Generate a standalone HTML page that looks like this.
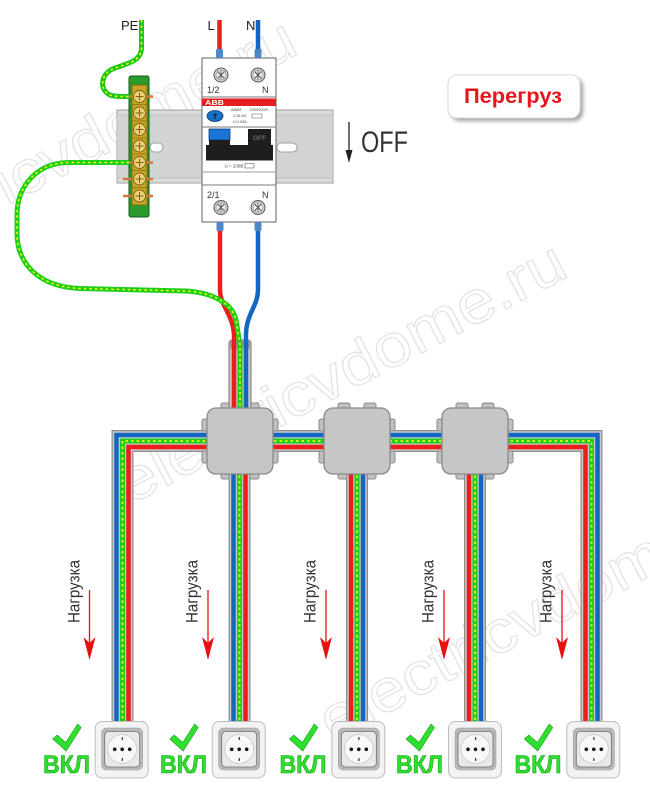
<!DOCTYPE html>
<html><head><meta charset="utf-8">
<style>
html,body{margin:0;padding:0;background:#fff;}
svg{display:block;}
text{font-family:"Liberation Sans","DejaVu Sans",sans-serif;}
</style></head><body>
<svg width="650" height="797" viewBox="0 0 650 797" xmlns="http://www.w3.org/2000/svg">
<defs>
<filter id="blur" x="-20%" y="-30%" width="140%" height="160%"><feGaussianBlur stdDeviation="2"/></filter>
<g id="sk">
<rect x="-26.5" y="721.5" width="53" height="56.5" rx="7" fill="#f3f3f3" stroke="#bdbdbd"/>
<rect x="-20" y="728" width="41" height="42" rx="5" fill="#b9b9b9" stroke="#a0a0a0" stroke-width="0.6"/>
<rect x="-17" y="731.5" width="35" height="35.5" rx="4" fill="#e9e9e9" stroke="#6e6e6e" stroke-width="0.8"/>
<circle cx="0.5" cy="749" r="14.5" fill="#f8f8f8" stroke="#cfcfcf"/>
<circle cx="-7" cy="749.3" r="1.8" fill="#111"/>
<circle cx="0.5" cy="749.3" r="1.8" fill="#111"/>
<circle cx="8" cy="749.3" r="1.8" fill="#111"/>
<rect x="0" y="737" width="1.2" height="3" fill="#333"/>
<rect x="0" y="758" width="1.2" height="3" fill="#333"/>
</g>
<polygon id="ck" points="-69,739 -64.5,735 -56,742.5 -44,724 -40.5,727.5 -55.5,751" fill="#2ee02e" stroke="#18a018" stroke-width="0.6"/>
<g id="scr">
<circle r="7" fill="#d6d6d6" stroke="#555" stroke-width="1"/>
<circle r="5" fill="#ededed" stroke="#8a8a8a" stroke-width="0.6"/>
<path d="M-3.5,-3.5 L3.5,3.5 M-3.5,3.5 L3.5,-3.5 M0,-4.5 V4.5" stroke="#555" stroke-width="0.9"/>
</g>
<g id="bs">
<circle r="6" fill="#ecd178" stroke="#7d6212" stroke-width="0.9"/>
<path d="M-4,0 H4 M0,-4 V4" stroke="#7d6212" stroke-width="1"/>
</g>
</defs>

<!-- watermarks -->
<g fill="none" stroke="#e3e3e3" stroke-width="1.2" font-size="60">
<text transform="translate(130,505) rotate(-27.5)" textLength="497" lengthAdjust="spacingAndGlyphs">electricvdome.ru</text>
<text transform="translate(-140,282) rotate(-27.5)" textLength="497" lengthAdjust="spacingAndGlyphs">electricvdome.ru</text>
<text transform="translate(332,742) rotate(-27.5)" textLength="497" lengthAdjust="spacingAndGlyphs">electricvdome.ru</text>
</g>

<!-- DIN rail -->
<rect x="117" y="110" width="216" height="73" fill="#dadada" stroke="#a0a0a0"/>
<rect x="117" y="115" width="216" height="63" fill="#d3d3d3" stroke="#b3b3b3" stroke-width="0.6"/>
<rect x="150" y="143" width="13" height="9" rx="4.5" fill="#fff" stroke="#a0a0a0"/>
<rect x="277" y="143" width="20" height="9" rx="4.5" fill="#fff" stroke="#a0a0a0"/>

<!-- bus bar -->
<rect x="129" y="76" width="20" height="141" rx="2" fill="#2a9a2a" stroke="#1b5e1b"/>
<rect x="132" y="85" width="15" height="120" fill="#c9a227" stroke="#7d6212" stroke-width="0.8"/>
<g stroke="#d2783c" stroke-width="2.5">
<line x1="140" y1="96.5" x2="153" y2="96.5"/>
<line x1="140" y1="162.5" x2="153" y2="162.5"/>
<line x1="123" y1="179" x2="153" y2="179"/>
<line x1="123" y1="196" x2="153" y2="196"/>
<line x1="125" y1="162.5" x2="132" y2="162.5"/>
<line x1="125" y1="96.5" x2="132" y2="96.5"/>
</g>
<g stroke="#7d6212" stroke-width="0.6">
<line x1="132" y1="104.5" x2="147" y2="104.5"/><line x1="132" y1="121" x2="147" y2="121"/>
<line x1="132" y1="138" x2="147" y2="138"/><line x1="132" y1="154" x2="147" y2="154"/>
<line x1="132" y1="170.5" x2="147" y2="170.5"/><line x1="132" y1="187.5" x2="147" y2="187.5"/>
</g>
<use href="#bs" x="139.5" y="96.5"/>
<use href="#bs" x="139.5" y="113"/>
<use href="#bs" x="139.5" y="129.5"/>
<use href="#bs" x="139.5" y="146"/>
<use href="#bs" x="139.5" y="162.5"/>
<use href="#bs" x="139.5" y="179"/>
<use href="#bs" x="139.5" y="196"/>

<!-- breaker -->
<rect x="202" y="58" width="74" height="164" fill="#fff" stroke="#7a7a7a" stroke-width="1.2"/>
<line x1="202" y1="97" x2="276" y2="97" stroke="#7a7a7a"/>
<rect x="202" y="98.5" width="74" height="7.5" fill="#e41e1e"/>
<text x="205" y="105" font-size="7.5" font-weight="bold" fill="#fff" textLength="19" lengthAdjust="spacingAndGlyphs">ABB</text>
<ellipse cx="215" cy="116" rx="8" ry="5.5" fill="#1b6fc4" stroke="#0d3c73" stroke-width="0.8"/>
<text x="215" y="119" font-size="7" font-weight="bold" fill="#111" text-anchor="middle">T</text>
<g font-size="4" fill="#444">
<text x="231" y="111">AWAT</text><text x="250" y="111">DSH201R</text>
<text x="233" y="117">C16  AC</text><text x="233" y="123">I=0.03A</text>
</g>
<rect x="252" y="114" width="10" height="4" fill="none" stroke="#555" stroke-width="0.5"/>
<line x1="202" y1="127" x2="276" y2="127" stroke="#7a7a7a"/>
<rect x="209" y="129" width="21" height="11" fill="#1b74d8" stroke="#0b3f80" stroke-width="0.8"/>
<rect x="209" y="140" width="21" height="5" fill="#1e1e1e"/>
<rect x="248" y="129" width="23" height="16" fill="#1e1e1e"/>
<text x="259.5" y="140" font-size="6.5" font-weight="bold" fill="#6a6a6a" text-anchor="middle">OFF</text>
<rect x="206" y="145" width="67" height="15.5" fill="#1e1e1e"/>
<text x="234" y="167.5" font-size="4.5" fill="#444" text-anchor="middle">U = 230В</text>
<rect x="245" y="163.5" width="9" height="4.5" fill="none" stroke="#444" stroke-width="0.5"/>
<line x1="202" y1="172" x2="276" y2="172" stroke="#9a9a9a"/>
<line x1="202" y1="185" x2="276" y2="185" stroke="#7a7a7a"/>
<use href="#scr" x="221" y="75"/>
<use href="#scr" x="258" y="75"/>
<use href="#scr" x="221" y="207.5"/>
<use href="#scr" x="258" y="207.5"/>
<g font-size="9" fill="#333">
<text x="207" y="93">1/2</text><text x="262" y="93">N</text>
<text x="207" y="198">2/1</text><text x="262" y="198">N</text>
</g>

<!-- top labels and wires -->
<g font-size="13" fill="#222">
<text x="121" y="30">PE</text>
<text x="207.5" y="30">L</text>
<text x="246" y="30">N</text>
</g>
<line x1="219.5" y1="20" x2="219.5" y2="52" stroke="#e82020" stroke-width="4.5"/>
<line x1="258" y1="20" x2="258" y2="52" stroke="#1565c0" stroke-width="4.5"/>
<rect x="216" y="49" width="7" height="9" rx="1.5" fill="#4f86c6"/>
<rect x="254.5" y="49" width="7" height="9" rx="1.5" fill="#4f86c6"/>

<!-- PE wire to bus -->
<path d="M141.5,20 L141.5,48 C141.5,60 130,63 115,68 C100,73 99,90 110,95 C115,97 122,96.5 129,96.5" fill="none" stroke="#1cc81c" stroke-width="5"/>
<path d="M141.5,20 L141.5,48 C141.5,60 130,63 115,68 C100,73 99,90 110,95 C115,97 122,96.5 129,96.5" fill="none" stroke="#f4f410" stroke-width="1.6" stroke-dasharray="2.5 3"/>

<!-- main horizontal bundle -->
<path d="M122.5,724 V441 H591.5 V724" fill="none" stroke="#8f8f8f" stroke-width="22"/>
<path d="M122.5,724 V441 H591.5 V724" fill="none" stroke="#c9c9c9" stroke-width="19.5"/>
<path d="M116.5,724 V435 H597.5 V724" fill="none" stroke="#1466c4" stroke-width="4.5"/>
<path d="M128.5,724 V447 H585.5 V724" fill="none" stroke="#ee1c1c" stroke-width="4.5"/>
<path d="M122.5,724 V441 H591.5 V724" fill="none" stroke="#1ccf1c" stroke-width="5"/>
<path d="M122.5,724 V441 H591.5 V724" fill="none" stroke="#f4f410" stroke-width="1.7" stroke-dasharray="2.5 3"/>

<!-- box tabs -->
<g fill="#c0c0c0" stroke="#8a8a8a" stroke-width="1">
<rect x="221" y="403" width="12" height="8" rx="2"/><rect x="247" y="403" width="12" height="8" rx="2"/>
<rect x="221" y="471" width="12" height="8" rx="2"/><rect x="247" y="471" width="12" height="8" rx="2"/>
<rect x="202" y="419" width="8" height="12" rx="2"/><rect x="202" y="451" width="8" height="12" rx="2"/>
<rect x="270" y="419" width="8" height="12" rx="2"/><rect x="270" y="451" width="8" height="12" rx="2"/>
<rect x="338" y="403" width="12" height="8" rx="2"/><rect x="364" y="403" width="12" height="8" rx="2"/>
<rect x="338" y="471" width="12" height="8" rx="2"/><rect x="364" y="471" width="12" height="8" rx="2"/>
<rect x="319" y="419" width="8" height="12" rx="2"/><rect x="319" y="451" width="8" height="12" rx="2"/>
<rect x="387" y="419" width="8" height="12" rx="2"/><rect x="387" y="451" width="8" height="12" rx="2"/>
<rect x="456" y="403" width="12" height="8" rx="2"/><rect x="482" y="403" width="12" height="8" rx="2"/>
<rect x="456" y="471" width="12" height="8" rx="2"/><rect x="482" y="471" width="12" height="8" rx="2"/>
<rect x="437" y="419" width="8" height="12" rx="2"/><rect x="437" y="451" width="8" height="12" rx="2"/>
<rect x="505" y="419" width="8" height="12" rx="2"/><rect x="505" y="451" width="8" height="12" rx="2"/>
</g>

<!-- drops -->
<g fill="none">
<path d="M239.5,470 V724" stroke="#8f8f8f" stroke-width="22"/>
<path d="M239.5,470 V724" stroke="#c9c9c9" stroke-width="19.5"/>
<path d="M233.5,470 V724" stroke="#1466c4" stroke-width="4.5"/>
<path d="M245.5,470 V724" stroke="#ee1c1c" stroke-width="4.5"/>
<path d="M239.5,470 V724" stroke="#1ccf1c" stroke-width="5"/>
<path d="M239.5,470 V724" stroke="#f4f410" stroke-width="1.7" stroke-dasharray="2.5 3"/>

<path d="M357,470 V724" stroke="#8f8f8f" stroke-width="22"/>
<path d="M357,470 V724" stroke="#c9c9c9" stroke-width="19.5"/>
<path d="M351,470 V724" stroke="#ee1c1c" stroke-width="4.5"/>
<path d="M363,470 V724" stroke="#1466c4" stroke-width="4.5"/>
<path d="M357,470 V724" stroke="#1ccf1c" stroke-width="5"/>
<path d="M357,470 V724" stroke="#f4f410" stroke-width="1.7" stroke-dasharray="2.5 3"/>

<path d="M475,470 V724" stroke="#8f8f8f" stroke-width="22"/>
<path d="M475,470 V724" stroke="#c9c9c9" stroke-width="19.5"/>
<path d="M469,470 V724" stroke="#ee1c1c" stroke-width="4.5"/>
<path d="M481,470 V724" stroke="#1466c4" stroke-width="4.5"/>
<path d="M475,470 V724" stroke="#1ccf1c" stroke-width="5"/>
<path d="M475,470 V724" stroke="#f4f410" stroke-width="1.7" stroke-dasharray="2.5 3"/>
</g>

<!-- top entry sheath -->
<rect x="229" y="340" width="22" height="74" rx="3" fill="#c6c6c6" stroke="#8a8a8a" stroke-width="1.2"/>
<rect x="230" y="341" width="20" height="8" rx="2" fill="#9a9a9a"/>

<!-- wires from breaker bottom -->
<rect x="216.5" y="222" width="7" height="9" rx="1.5" fill="#4f86c6"/>
<rect x="254.5" y="222" width="7" height="9" rx="1.5" fill="#4f86c6"/>
<path d="M220,231 V290 C220,306 233,314 234,335 V412" fill="none" stroke="#ee1c1c" stroke-width="4.5"/>
<path d="M258,231 V290 C258,306 246,314 246,335 V412" fill="none" stroke="#1466c4" stroke-width="4.5"/>
<path d="M129,162.5 L68,162.5 C38,163 17,185 17,215 L17,235 C18,265 40,287 80,288.5 L185,291 C210,292 232,302 236,320 L240,345 V412" fill="none" stroke="#1ccf1c" stroke-width="5"/>
<path d="M129,162.5 L68,162.5 C38,163 17,185 17,215 L17,235 C18,265 40,287 80,288.5 L185,291 C210,292 232,302 236,320 L240,345 V412" fill="none" stroke="#f4f410" stroke-width="1.6" stroke-dasharray="2.5 3"/>

<!-- junction boxes -->
<g fill="#c6c6c6" stroke="#8a8a8a" stroke-width="1.3">
<rect x="207" y="408" width="66" height="66" rx="9"/>
<rect x="324" y="408" width="66" height="66" rx="9"/>
<rect x="442" y="408" width="66" height="66" rx="9"/>
</g>

<!-- OFF -->
<line x1="349" y1="122" x2="349" y2="153" stroke="#222" stroke-width="1.3"/>
<polygon points="345.5,150 352.5,150 349,163" fill="#222"/>
<text x="361" y="152" font-size="30" fill="#333" textLength="47" lengthAdjust="spacingAndGlyphs">OFF</text>

<!-- Peregruz button -->
<rect x="451" y="78" width="132" height="43" rx="9" fill="#777" opacity="0.7" filter="url(#blur)"/>
<rect x="448" y="75" width="132" height="43" rx="9" fill="#fff" stroke="#d8d8d8"/>
<text x="464" y="103" font-size="21" font-weight="bold" fill="#e8141c" textLength="98" lengthAdjust="spacingAndGlyphs">Перегруз</text>

<!-- Nagruzka labels & arrows -->
<g font-size="17" fill="#333">
<text transform="translate(79.5,623) rotate(-90)" textLength="63" lengthAdjust="spacingAndGlyphs">Нагрузка</text>
<text transform="translate(197.5,623) rotate(-90)" textLength="63" lengthAdjust="spacingAndGlyphs">Нагрузка</text>
<text transform="translate(315.5,623) rotate(-90)" textLength="63" lengthAdjust="spacingAndGlyphs">Нагрузка</text>
<text transform="translate(433.5,623) rotate(-90)" textLength="63" lengthAdjust="spacingAndGlyphs">Нагрузка</text>
<text transform="translate(551.5,623) rotate(-90)" textLength="63" lengthAdjust="spacingAndGlyphs">Нагрузка</text>
</g>
<g stroke="#e81010" stroke-width="1.3">
<line x1="89.5" y1="590" x2="89.5" y2="645"/>
<line x1="208" y1="590" x2="208" y2="645"/>
<line x1="326" y1="590" x2="326" y2="645"/>
<line x1="444" y1="590" x2="444" y2="645"/>
<line x1="562" y1="590" x2="562" y2="645"/>
</g>
<g fill="#e81010">
<polygon points="83.5,637 89.5,643 95.5,637 89.5,660"/>
<polygon points="202,637 208,643 214,637 208,660"/>
<polygon points="320,637 326,643 332,637 326,660"/>
<polygon points="438,637 444,643 450,637 444,660"/>
<polygon points="556,637 562,643 568,637 562,660"/>
</g>

<!-- sockets -->
<use href="#sk" x="121.7" y="0"/>
<use href="#sk" x="238.7" y="0"/>
<use href="#sk" x="358.3" y="0"/>
<use href="#sk" x="475" y="0"/>
<use href="#sk" x="593.3" y="0"/>

<!-- checks + VKL -->
<use href="#ck" x="121.7" y="0"/>
<use href="#ck" x="238.7" y="0"/>
<use href="#ck" x="358.3" y="0"/>
<use href="#ck" x="475" y="0"/>
<use href="#ck" x="593.3" y="0"/>
<g font-size="25" font-weight="bold" fill="#2ee02e" stroke="#18a018" stroke-width="0.6">
<text x="43" y="773" textLength="47" lengthAdjust="spacingAndGlyphs">ВКЛ</text>
<text x="160" y="773" textLength="47" lengthAdjust="spacingAndGlyphs">ВКЛ</text>
<text x="279.5" y="773" textLength="47" lengthAdjust="spacingAndGlyphs">ВКЛ</text>
<text x="396" y="773" textLength="47" lengthAdjust="spacingAndGlyphs">ВКЛ</text>
<text x="514.5" y="773" textLength="47" lengthAdjust="spacingAndGlyphs">ВКЛ</text>
</g>
</svg>
</body></html>
